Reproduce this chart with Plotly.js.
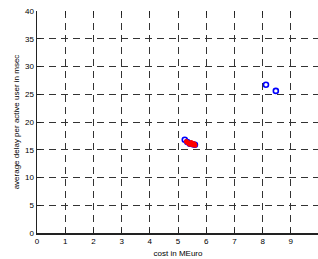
<!DOCTYPE html>
<html><head><meta charset="utf-8">
<script src="https://cdn.plot.ly/plotly-3.0.1.min.js"></script>
<style>html,body{margin:0;padding:0;overflow:hidden;background:#fff}</style>
</head><body><div id="chart"></div>
<script>
const blueX = [8.12, 8.47, 5.24, 5.33, 5.42, 5.52, 5.6];
const blueY = [26.7, 25.6, 16.8, 16.4, 16.1, 16.0, 15.9];
const redX = [5.3, 5.36, 5.42, 5.47, 5.52, 5.57, 5.6];
const redY = [16.5, 16.2, 16.0, 16.3, 15.9, 16.1, 15.8];
const xTicks = [0,1,2,3,4,5,6,7,8,9,10];
const yTicks = [0,5,10,15,20,25,30,35,40];
const xTitle = 'cost in MEuro';
const yTitle = 'average delay per active user in msec';

const font = {family: 'Liberation Sans, Arial, sans-serif', size: 8, color: '#000'};
const traces = [
  {x: blueX, y: blueY, type: 'scatter', mode: 'markers', hoverinfo: 'skip',
   marker: {symbol: 'circle-open', size: 5, color: '#0000ff', line: {width: 1.6, color: '#0000ff'}}},
  {x: redX, y: redY, type: 'scatter', mode: 'markers', hoverinfo: 'skip',
   marker: {symbol: 'circle', size: 5, color: '#ff0000', line: {width: 0}}},
  {x: [0], y: [0], xaxis: 'x2', yaxis: 'y', type: 'scatter', mode: 'markers', marker: {opacity: 0}, hoverinfo: 'skip'}
];
const layout = {
  width: 322, height: 259,
  margin: {l: 37, r: 3, t: 11, b: 26},
  paper_bgcolor: '#fff', plot_bgcolor: '#fff',
  showlegend: false, font: font,
  xaxis: {range: [0, 10], tickvals: xTicks, ticktext: xTicks.map(String),
    showgrid: true, gridcolor: '#333', griddash: '7px,5px', gridwidth: 1,
    zeroline: false, showline: true, linecolor: '#222', linewidth: 1.5,
    ticks: 'inside', ticklen: 4, tickcolor: '#222', tickfont: font,
    title: {text: xTitle, font: font, standoff: 5}},
  xaxis2: {range: [0, 10], overlaying: 'x', side: 'top', tickvals: xTicks,
    showticklabels: false, showgrid: false, zeroline: false, showline: false,
    ticks: 'inside', ticklen: 4, tickcolor: '#222'},
  yaxis: {range: [0, 40], tickvals: yTicks, ticktext: yTicks.map(String),
    showgrid: true, gridcolor: '#333', griddash: '7px,5px', gridwidth: 1,
    zeroline: false, showline: true, linecolor: '#222', linewidth: 1.5,
    ticks: 'inside', ticklen: 4, tickcolor: '#222', tickfont: font,
    title: {text: yTitle, font: font, standoff: 4}}
};
Plotly.newPlot('chart', traces, layout, {staticPlot: true, displayModeBar: false});
</script></body></html>
